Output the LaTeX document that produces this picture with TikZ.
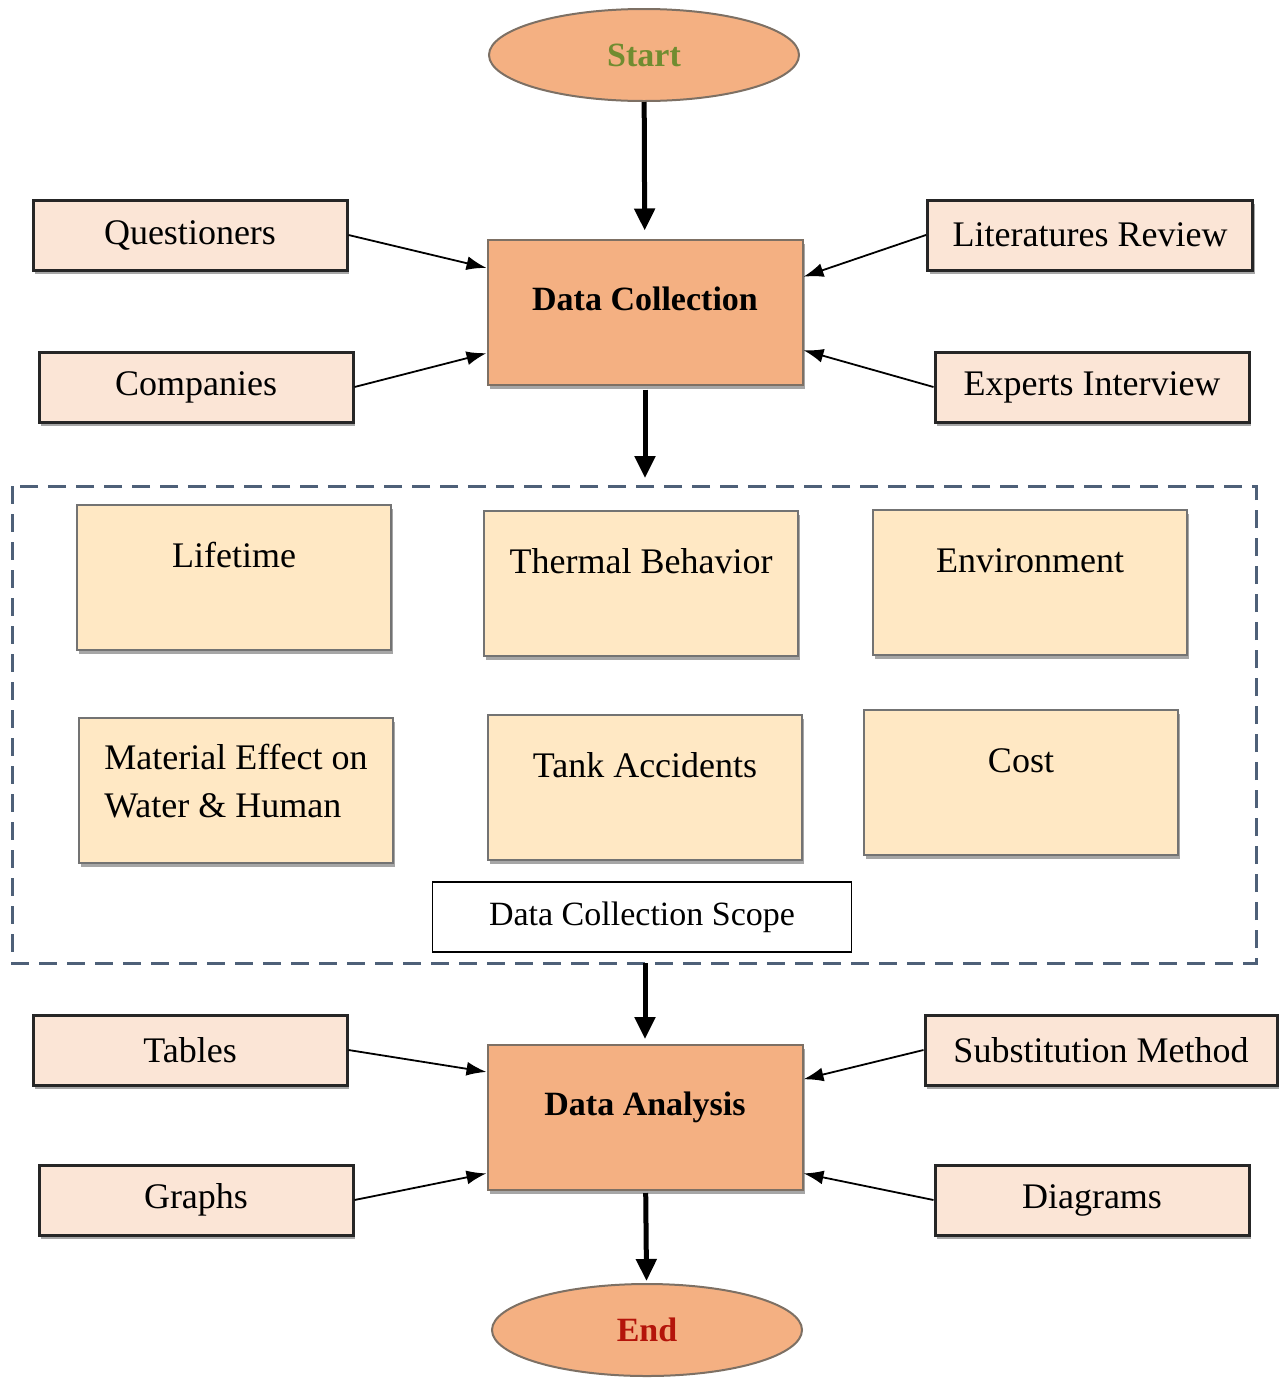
\documentclass[tikz,border=0pt]{standalone}
\usepackage{fontspec}
\setmainfont{Liberation Serif}
\usetikzlibrary{arrows.meta, shapes.geometric, shadows, calc, positioning}
\definecolor{peach}{RGB}{244,176,130}
\definecolor{blush}{RGB}{251,229,214}
\definecolor{cream}{RGB}{255,232,196}
\definecolor{olivetext}{RGB}{112,140,48}
\definecolor{endred}{RGB}{180,20,10}
\definecolor{slateline}{RGB}{78,96,120}
\definecolor{rimgray}{RGB}{125,112,100}
\tikzset{
  shade/.style={drop shadow={shadow xshift=1.2pt, shadow yshift=-2pt, opacity=0.35, fill=black}},
  terminal/.style={ellipse, draw=rimgray, line width=1pt, fill=peach, minimum width=155pt, minimum height=46pt, font=\fontsize{17}{20}\selectfont\bfseries},
  stage/.style={draw=rimgray, line width=1pt, fill=peach, minimum width=157.5pt, minimum height=72.5pt, text height=12pt, text depth=14pt, font=\fontsize{17}{20}\selectfont\bfseries, shade},
  source/.style={draw=black!85, line width=1.5pt, fill=blush, minimum width=157pt, minimum height=35pt, font=\fontsize{18}{22}\selectfont, shade},
  scopeitem/.style={draw=black!55, line width=1pt, fill=cream, minimum width=157pt, minimum height=72.5pt, font=\fontsize{18}{24}\selectfont, shade},
  topline/.style={text height=13pt, text depth=23.5pt},
  scopetag/.style={draw=black, line width=0.8pt, fill=white, minimum width=209.5pt, minimum height=35pt, font=\fontsize{17}{20}\selectfont},
  scopeframe/.style={draw=slateline, line width=1.5pt, dash pattern=on 9pt off 5pt},
  pto/.style={-{Triangle[length=11pt,width=10pt]}, line width=2.5pt},
  feed/.style={-{Latex[length=10pt,width=7pt]}, line width=0.9pt}
}
\begin{document}
\begin{tikzpicture}[x=0.5pt, y=-0.5pt]
  \useasboundingbox (0,0) rectangle (1282,1382);

  % start and data collection
  \node[terminal, text=olivetext] (start) at (644,55) {Start};
  \node[stage] (dc) at (645,312) {Data Collection};
  \node[source] (q1) at (190,235) {Questioners};
  \node[source] (q2) at (196,387) {Companies};
  \node[source, minimum width=162.5pt] (q3) at (1090,235) {Literatures Review};
  \node[source] (q4) at (1092,387) {Experts Interview};

  % scope of the collected data
  \coordinate (fr1) at (12,486);
  \coordinate (fr2) at (1256,963);
  \draw[scopeframe] (fr1) rectangle (fr2);
  \node[scopeitem, topline] (g1) at (234,577.5) {Lifetime};
  \node[scopeitem, topline] (g2) at (641,583.5) {Thermal Behavior};
  \node[scopeitem, topline] (g3) at (1030,582.5) {Environment};
  \node[scopeitem, align=left, text depth=10pt] (g4) at (236,790.5) {Material Effect on\\Water \& Human};
  \node[scopeitem, topline] (g5) at (645,787.5) {Tank Accidents};
  \node[scopeitem, topline] (g6) at (1021,782.5) {Cost};
  \node[scopetag] (tag) at (642,917) {Data Collection Scope};

  % data analysis and end
  \node[stage] (da) at (645,1117.5) {Data Analysis};
  \node[source] (t1) at (190,1050) {Tables};
  \node[source] (t2) at (196,1200) {Graphs};
  \node[source, minimum width=176pt] (t3) at (1101,1050) {Substitution Method};
  \node[source] (t4) at (1092,1200) {Diagrams};
  \node[terminal, text=endred] (finish) at (647,1330) {End};

  \coordinate (dcin1) at ($(dc.north west)!0.2!(dc.south west)$);
  \coordinate (dcin2) at ($(dc.north west)!0.78!(dc.south west)$);
  \coordinate (dcin3) at ($(dc.north east)!0.26!(dc.south east)$);
  \coordinate (dcin4) at ($(dc.north east)!0.76!(dc.south east)$);
  \coordinate (dain1) at ($(da.north west)!0.19!(da.south west)$);
  \coordinate (dain2) at ($(da.north west)!0.88!(da.south west)$);
  \coordinate (dain3) at ($(da.north east)!0.24!(da.south east)$);
  \coordinate (dain4) at ($(da.north east)!0.88!(da.south east)$);

  \draw[pto, shorten >=4pt] (start) -- (dc);
  \draw[pto, shorten <=2pt, shorten >=4pt] (dc.south) -- (dc.south |- fr1);
  \draw[pto, shorten >=2.5pt] (da.north |- fr2) -- (da.north);
  \draw[pto, shorten <=1pt, shorten >=1pt] (da) -- (finish);

  \foreach \a/\b in {q1.east/dcin1, q2.east/dcin2, q3.west/dcin3, q4.west/dcin4,
                     t1.east/dain1, t2.east/dain2, t3.west/dain3, t4.west/dain4}
    \draw[feed] (\a) -- (\b);
\end{tikzpicture}
\end{document}
